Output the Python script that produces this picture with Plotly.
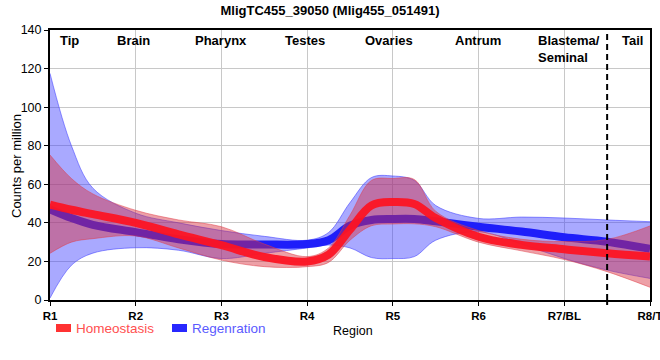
import plotly.graph_objects as go

# positions along the body (R1..R8), read at sub-region steps
x_pos = [1, 1.25, 1.5, 2, 2.5, 3, 3.5, 4, 4.25, 4.5, 4.75, 5, 5.25, 5.5, 6, 6.5, 7, 7.5, 8]

homeo_mean = [49.5, 46.8, 44.5, 40, 34, 28.4, 22.3, 20, 23.5, 36.5, 49, 50.8, 49.8, 42.5, 32.8, 28.6, 26.3, 24.2, 22.5]
homeo_upper = [75.2, 63, 55, 46.5, 41.5, 38, 29, 22.5, 27, 44, 62, 63, 62.5, 46, 36, 31.5, 30.3, 31.4, 38.4]
homeo_lower = [24.2, 30, 31.8, 33.2, 27, 20.7, 17.3, 17.3, 19.5, 31, 38.5, 39.4, 39.5, 38, 30, 25.5, 21, 14.7, 6.6]

regen_mean = [47, 42.5, 39, 35.2, 31.5, 29, 28.8, 29, 31, 38.5, 41.5, 42, 42, 40.8, 38, 35.5, 32.5, 30.2, 26.5]
regen_upper = [117.5, 80, 58, 45, 40, 36, 33, 31, 35, 50.5, 63.5, 64.3, 62, 49, 42.3, 43, 42.5, 41.5, 40.6]
regen_lower = [1, 18, 24.3, 27.1, 25.8, 21.5, 24.2, 27, 28.5, 27, 22, 21.5, 22.5, 31, 35.4, 29, 21.5, 15.5, 11.2]

tick_vals = [1, 2, 3, 4, 5, 6, 7, 8]
tick_text = ["R1", "R2", "R3", "R4", "R5", "R6", "R7/BL", "R8/T"]

region_names = ["Tip", "Brain", "Pharynx", "Testes", "Ovaries", "Antrum", "Blastema/<br>Seminal", "Tail"]
region_x = [1.23, 1.97, 2.99, 3.97, 4.95, 5.99, 6.67, 7.80]
region_anchor = ["center", "center", "center", "center", "center", "center", "left", "center"]

title = "MligTC455_39050 (Mlig455_051491)"
FONT = "Liberation Sans, Arial, sans-serif"

fig = go.Figure()

def band(upper, lower, fill, edge):
    fig.add_trace(go.Scatter(x=x_pos, y=upper, mode="lines",
                             line=dict(shape="spline", smoothing=1, width=1, color=edge),
                             showlegend=False, hoverinfo="skip"))
    fig.add_trace(go.Scatter(x=x_pos, y=lower, mode="lines", fill="tonexty", fillcolor=fill,
                             line=dict(shape="spline", smoothing=1, width=1, color=edge),
                             showlegend=False, hoverinfo="skip"))

band(regen_upper, regen_lower, "rgba(60,60,255,0.44)", "rgba(60,60,255,0.55)")
fig.add_trace(go.Scatter(x=x_pos, y=regen_mean, mode="lines", name="Regenration",
                         line=dict(shape="spline", smoothing=1, width=8, color="rgb(30,30,250)"),
                         showlegend=False))
band(homeo_upper, homeo_lower, "rgba(215,45,60,0.45)", "rgba(225,60,70,0.5)")
fig.add_trace(go.Scatter(x=x_pos, y=homeo_mean, mode="lines", name="Homeostasis",
                         line=dict(shape="spline", smoothing=1, width=8, color="rgba(252,20,35,0.95)"),
                         showlegend=False))

annotations = []
for name, xv, anc in zip(region_names, region_x, region_anchor):
    annotations.append(dict(x=xv, y=139.5, xref="x", yref="y", text="<b>%s</b>" % name,
                            showarrow=False, xanchor=anc, yanchor="top", align="left",
                            font=dict(family=FONT, size=13, color="black")))

def px2paper_x(px):
    return (px - 50) / 600.0

def px2paper_y(py):
    return (300 - py) / 270.0

shapes = [
    dict(type="line", x0=7.5, x1=7.5, y0=0, y1=140, xref="x", yref="y",
         line=dict(color="black", width=2, dash="6px,4px")),
    dict(type="line", x0=7.5, x1=7.5, y0=px2paper_y(300), y1=px2paper_y(305), xref="x", yref="paper",
         line=dict(color="black", width=2)),
    dict(type="rect", xref="paper", yref="paper",
         x0=px2paper_x(56), x1=px2paper_x(71), y0=px2paper_y(332), y1=px2paper_y(324),
         fillcolor="rgb(255,50,50)", line=dict(width=0)),
    dict(type="rect", xref="paper", yref="paper",
         x0=px2paper_x(172), x1=px2paper_x(187), y0=px2paper_y(332), y1=px2paper_y(324),
         fillcolor="rgb(40,40,255)", line=dict(width=0)),
]
annotations.append(dict(x=px2paper_x(74), y=px2paper_y(328), xref="paper", yref="paper",
                        text="Homeostasis", showarrow=False, xanchor="left", yanchor="middle",
                        font=dict(family=FONT, size=13.5, color="rgb(255,80,80)")))
annotations.append(dict(x=px2paper_x(190), y=px2paper_y(328), xref="paper", yref="paper",
                        text="Regenration", showarrow=False, xanchor="left", yanchor="middle",
                        font=dict(family=FONT, size=13.5, color="rgb(90,90,255)")))
annotations.append(dict(x=px2paper_x(353), y=px2paper_y(331), xref="paper", yref="paper",
                        text="Region", showarrow=False, xanchor="center", yanchor="middle",
                        font=dict(family=FONT, size=12.5, color="black")))
annotations.append(dict(x=px2paper_x(16), y=px2paper_y(166), xref="paper", yref="paper",
                        text="Counts per million", showarrow=False, xanchor="center", yanchor="middle",
                        textangle=-90, font=dict(family=FONT, size=13, color="black")))

fig.update_layout(
    width=660, height=360,
    margin=dict(l=50, r=10, t=30, b=60, autoexpand=False),
    paper_bgcolor="white", plot_bgcolor="white",
    title=dict(text="<b>%s</b>" % title, x=0.5, xanchor="center", y=1 - 10 / 360, yanchor="middle",
               font=dict(family=FONT, size=13, color="black")),
    font=dict(family=FONT, size=13, color="black"),
    showlegend=False,
    annotations=annotations,
    shapes=shapes,
)
fig.update_xaxes(range=[1, 8], tickvals=tick_vals, ticktext=["<b>%s</b>" % t for t in tick_text],
                 ticklabeloverflow="allow", automargin=False,
                 showgrid=True, gridcolor="rgb(200,200,200)", gridwidth=1,
                 showline=True, linecolor="black", linewidth=2, mirror=True,
                 ticks="outside", ticklen=4, tickcolor="black",
                 tickfont=dict(family=FONT, size=11.5, color="black"),
                 zeroline=False)
fig.update_yaxes(range=[0, 140], dtick=20, showgrid=True, gridcolor="rgb(200,200,200)", gridwidth=1,
                 showline=True, linecolor="black", linewidth=2, mirror=True,
                 ticks="outside", ticklen=4, tickcolor="black", automargin=False,
                 tickfont=dict(family=FONT, size=12.5, color="black"),
                 zeroline=False)

fig.write_html("out.html", config={"displayModeBar": False},
               post_script="document.body.style.margin='0';")
